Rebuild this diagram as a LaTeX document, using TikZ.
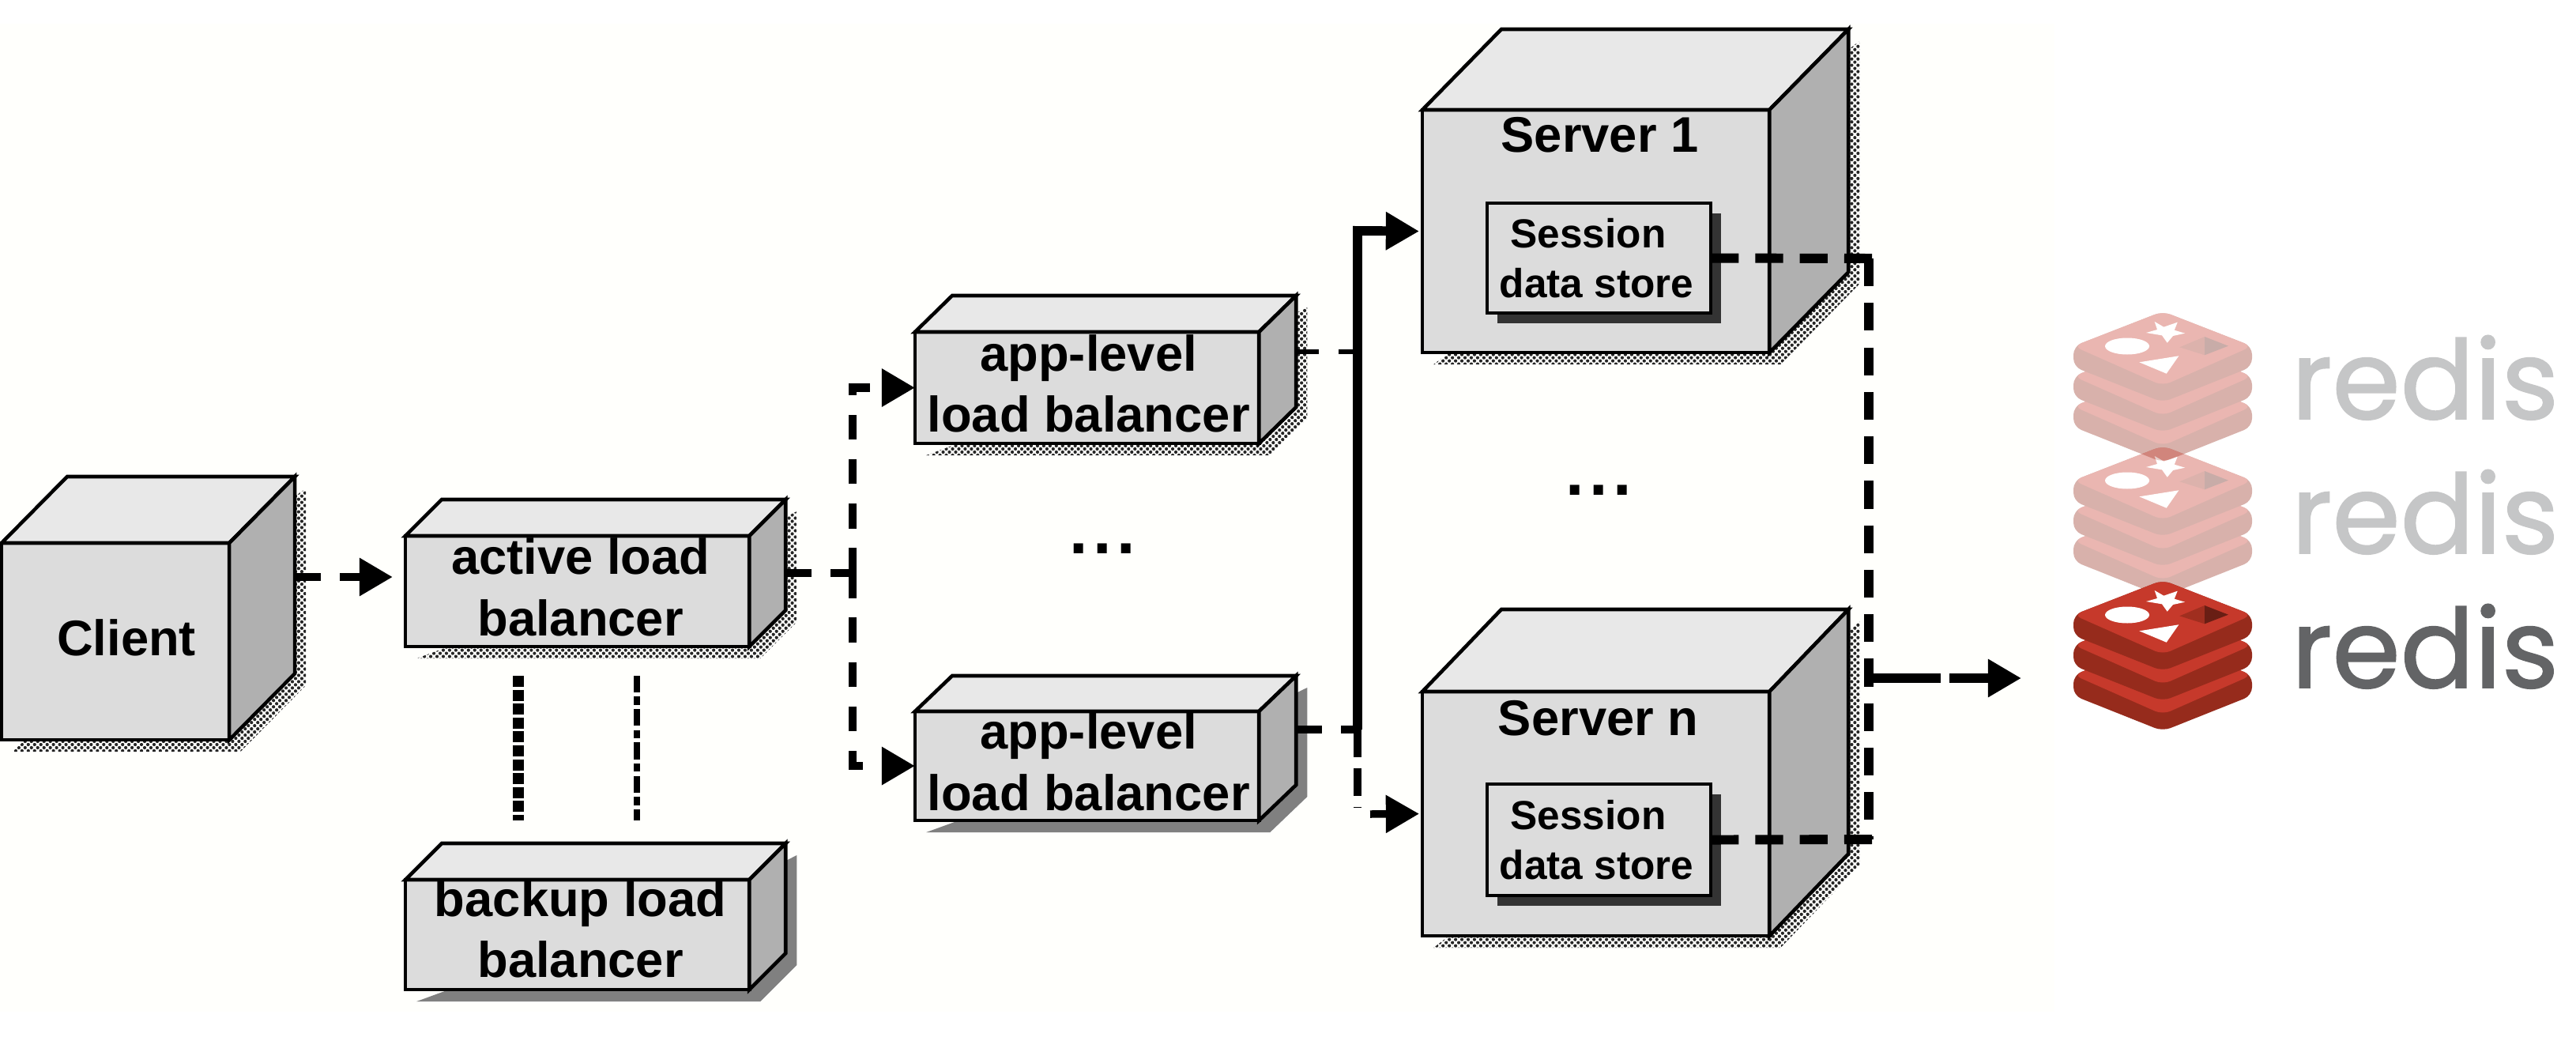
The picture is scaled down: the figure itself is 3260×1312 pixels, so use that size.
\documentclass[tikz,border=0pt]{standalone}
\usepackage{fontspec}
\setmainfont{Liberation Sans}
\newfontfamily\redisfont{Poppins}[FakeBold=1.2]
\newfontfamily\dotfont{Liberation Sans}[LetterSpace=8]
\usetikzlibrary{arrows.meta,backgrounds,patterns.meta}

\definecolor{facefront}{HTML}{DCDCDC}
\definecolor{facetop}{HTML}{E8E8E8}
\definecolor{faceside}{HTML}{B0B0B0}
\definecolor{redistop}{HTML}{C6392B}
\definecolor{redisside}{HTML}{962B1C}
\definecolor{redisword}{HTML}{636466}

\tikzset{
    frontface/.style 2 args={draw, fill=facefront, line width=1.3pt, inner sep=0pt, outer sep=0pt, anchor=north west, minimum width=#1cm, minimum height=#2cm},
    boxtext/.style={font=\fontsize{18}{22}\selectfont\bfseries, align=center, inner sep=0pt},
    storetext/.style={font=\fontsize{14.6}{18}\selectfont\bfseries, align=center, inner sep=0pt},
    dotstext/.style={font=\fontsize{24}{24}\dotfont\bfseries, inner sep=0pt},
    ditheredshadow/.style={pattern={Dots[distance=1.6pt,radius=.6pt,angle=45]}, pattern color=black!85},
    solidshadow/.style={fill=black!50},
    flow/.style={line width=3pt, dash pattern=on 9pt off 7pt},
    heavyflow/.style={line width=3.4pt, dash pattern=on 10pt off 6pt},
    flowtip/.style={-{Triangle[length=12pt,width=13pt]}}
}

% top and side of a box whose front is node #1
\newcommand{\cubeparts}[4]{
    \coordinate (#1bnw) at ([shift={(#2,-#3)}]#1.north west);
    \coordinate (#1bne) at ([shift={(#2,-#3)}]#1.north east);
    \coordinate (#1bse) at ([shift={(#2,-#3)}]#1.south east);
    \begin{pgfonlayer}{background}
        \path[#4] ([shift={(14,15)}]#1.south west) -- ([shift={(14,15)}]#1.south east) -- ([shift={(14,15)}]#1bse) -- ([shift={(14,15)}]#1bne) -- (#1.north east) -- cycle;
    \end{pgfonlayer}
    \draw[fill=facetop, line width=1.3pt] (#1.north west) -- (#1bnw) -- (#1bne) -- (#1.north east) -- cycle;
    \draw[fill=faceside, line width=1.3pt] (#1.north east) -- (#1bne) -- (#1bse) -- (#1.south east) -- cycle;
}

% one redis logo, #2 is the y of its top corner
\newcommand{\redislogo}[3]{
    \begin{scope}[shift={(2737,#2)}, transparency group, opacity=#3]
        \foreach \layer in {76,38,0} {
            \fill[redisside, rounded corners=3pt] (-113,44+\layer) -- (0,\layer) -- (113,44+\layer) -- (113,70+\layer) -- (0,115+\layer) -- (-113,70+\layer) -- cycle;
            \fill[redistop, rounded corners=3pt] (-113,44+\layer) -- (0,\layer) -- (113,44+\layer) -- (0,94+\layer) -- cycle;
        }
        \fill[white] (-45,44) ellipse (28 and 10.5);
        \fill[white] (-10.3,13) -- (1.3,19.7) -- (18.7,13.7) -- (14.7,23.7) -- (28,27.7) -- (13,31) -- (5.7,39.7) -- (-1,30.3) -- (-21,27) -- (-7,23) -- cycle;
        \fill[white] (-29.7,64.3) -- (20.3,56.3) -- (4.7,78.7) -- cycle;
        \fill[redisside!80!redistop] (21.3,45.3) -- (53,32) -- (53,55.3) -- cycle;
        \fill[redisside!70!black] (53,32) -- (83,43.7) -- (53,55.3) -- cycle;
        \node[anchor=base west, inner sep=0pt, text=redisword, font=\fontsize{39.5}{40}\redisfont] (#1) at (162,136) {redis};
    \end{scope}
}

\begin{document}
\begin{tikzpicture}[x=0.01cm, y=-0.01cm]
    \useasboundingbox (0,0) rectangle (3260,1312);
    \begin{pgfonlayer}{background}
        \fill[black!1!yellow!1!white] (0,30) rectangle (2600,1280);
    \end{pgfonlayer}

    % we draw the boxes
    \node[frontface={2.88}{2.49}] (client) at (2,687) {};
    \node[frontface={4.35}{1.40}] (activelb) at (513,678) {};
    \node[frontface={4.35}{1.39}] (backuplb) at (513,1113) {};
    \node[frontface={4.35}{1.41}] (applb1) at (1158,420) {};
    \node[frontface={4.35}{1.38}] (applb2) at (1158,900) {};
    \node[frontface={4.39}{3.07}] (server1) at (1800,139) {};
    \node[frontface={4.39}{3.09}] (servern) at (1800,875) {};
    \cubeparts{client}{83}{84}{ditheredshadow}
    \cubeparts{activelb}{46}{46}{ditheredshadow}
    \cubeparts{backuplb}{46}{46}{solidshadow}
    \cubeparts{applb1}{47}{46}{ditheredshadow}
    \cubeparts{applb2}{47}{45}{solidshadow}
    \cubeparts{server1}{100}{102}{ditheredshadow}
    \cubeparts{servern}{100}{104}{ditheredshadow}

    % we draw the session stores
    \fill[black!80] (1895,270) rectangle (2178,409);
    \fill[black!80] (1895,1005) rectangle (2178,1146);
    \node[frontface={2.83}{1.39}, fill=facefront] (store1) at (1882,257) {};
    \node[frontface={2.83}{1.41}, fill=facefront] (storen) at (1882,992) {};

    % we add the texts
    \node[boxtext] (clienttext) at ([shift={(14,-5)}]client.center) {Client};
    \node[boxtext] (activetext) at ([shift={(4,-5)}]activelb.center) {active load\\balancer};
    \node[boxtext] (backuptext) at ([shift={(4,-7)}]backuplb.center) {backup load\\balancer};
    \node[boxtext] (app1text) at ([shift={(2,-5)}]applb1.center) {app-level\\load balancer};
    \node[boxtext] (app2text) at ([shift={(2,-5)}]applb2.center) {app-level\\load balancer};
    \node[boxtext, anchor=base] (server1text) at ([shift={(5,53)}]server1.north) {Server 1};
    \node[boxtext, anchor=base] (serverntext) at ([shift={(3,55)}]servern.north) {Server n};
    \node[storetext] (store1text) at ([shift={(-3,0)}]store1.center) {Session\hspace*{6pt}\\data store};
    \node[storetext] (storentext) at ([shift={(-3,0)}]storen.center) {Session\hspace*{6pt}\\data store};
    \node[dotstext] (appdots) at (1395,694) {...};
    \node[dotstext] (serverdots) at (2023,620) {...};

    % we draw the redis logos
    \redislogo{redisa}{394}{.37}
    \redislogo{redisb}{564}{.37}
    \redislogo{redisc}{734}{1}

    % we draw the links on the left
    \coordinate (clientout) at (374,730);
    \coordinate (activeout) at (995,725);
    \coordinate (lbbus) at (1079,725);
    \draw[flow, flowtip, shorten >=16*0.01cm] (clientout) -- (clientout -| activelb.west);
    \draw[flow] (activeout) -- (lbbus);
    \draw[flow, flowtip] (lbbus) |- (applb1.west);
    \draw[flow, flowtip] (lbbus) |- (applb2.west);

    % we draw the standby link
    \coordinate (standbya) at (656,855);
    \coordinate (standbyb) at (656,1038);
    \coordinate (standbyc) at (806,855);
    \coordinate (standbyd) at (806,1038);
    \draw[line width=3.8pt, dash pattern=on 4pt off 1pt] (standbya) -- (standbyb);
    \draw[line width=2.2pt, dash pattern=on 6pt off 1.5pt on 3pt off 1.5pt] (standbyc) -- (standbyd);

    % we draw the links to the servers
    \coordinate (app1out) at (1641,445);
    \coordinate (app2out) at (1641,923);
    \coordinate (srvbusa) at (1718,292);
    \coordinate (srvbusb) at (1718,445);
    \coordinate (srvbusc) at (1718,923);
    \coordinate (srvbusd) at (1718,1022);
    \coordinate (srvstub) at (1734,1030);
    \draw[line width=1.8pt, dash pattern=on 8pt off 7pt] (app1out) -- (srvbusb);
    \draw[flow] (app2out) -- (srvbusc);
    \draw[line width=3.4pt, flowtip, shorten >=4*0.01cm] (srvbusc) -- (srvbusa) -- (server1.west);
    \draw[flow, dash pattern=on 10pt off 4pt] (srvbusc) -- (srvbusd);
    \draw[line width=2.7pt, flowtip, shorten >=4*0.01cm] (srvstub) -- (servern.west);

    % we draw the links to redis
    \coordinate (store1out) at (2372,327);
    \coordinate (storenout) at (2372,1062);
    \coordinate (redisbusa) at (2365,327);
    \coordinate (redisbusb) at (2365,1062);
    \coordinate (redisbusc) at (2365,858);
    \coordinate (redisin) at (2558,858);
    \draw[heavyflow] (store1.east) -- (store1out);
    \draw[heavyflow] (storen.east) -- (storenout);
    \draw[heavyflow] (redisbusa) -- (redisbusb);
    \draw[line width=3.2pt, flowtip, dash pattern=on 26pt off 3pt] (redisbusc) -- (redisin);
\end{tikzpicture}
\end{document}
